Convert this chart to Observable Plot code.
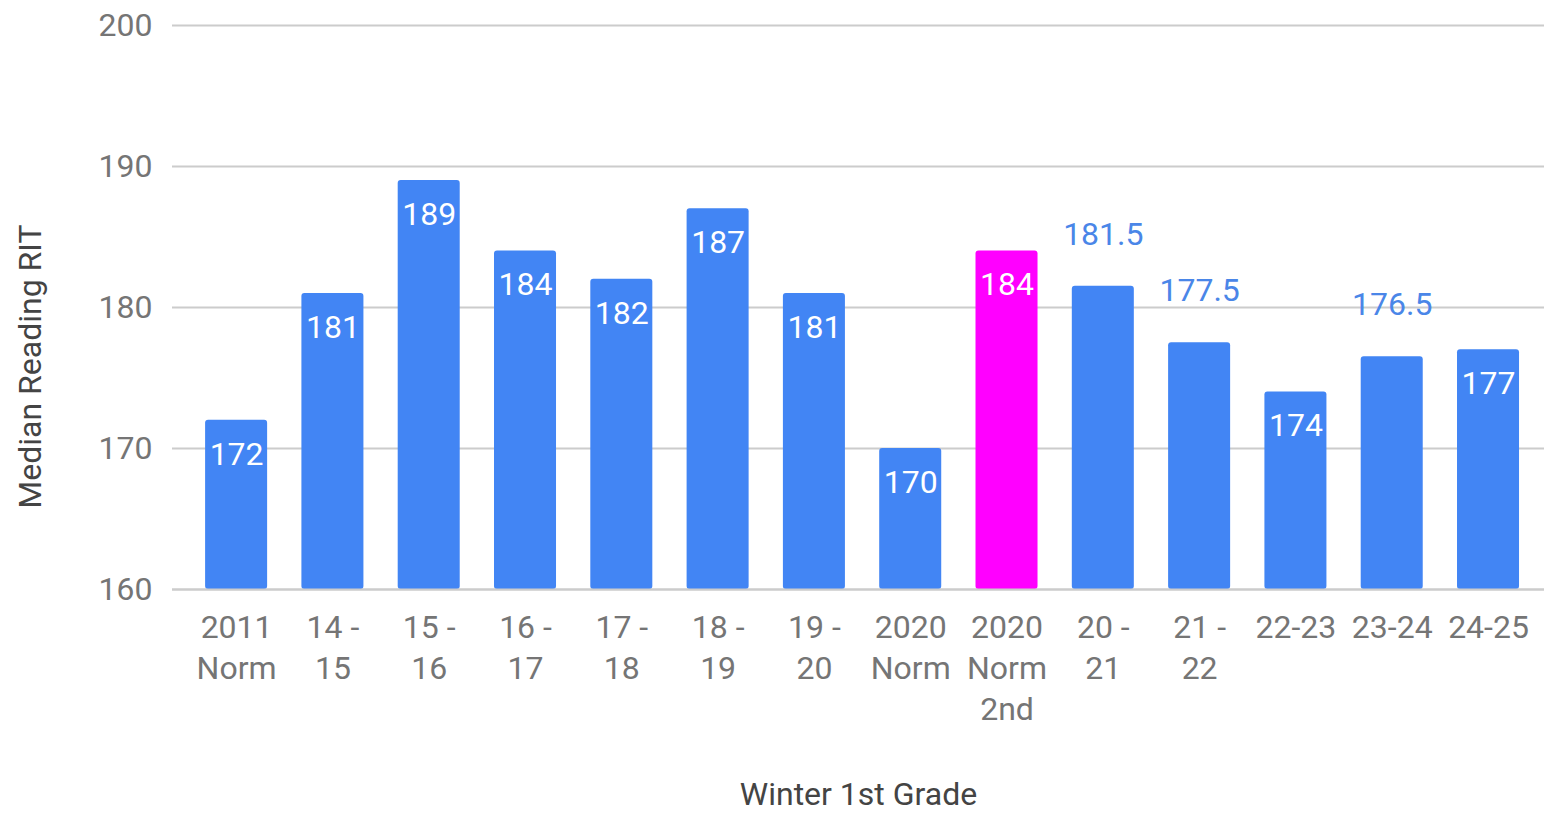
<!DOCTYPE html>
<html>
<head>
<meta charset="utf-8">
<script src="https://cdn.jsdelivr.net/npm/d3@7"></script>
<script src="https://cdn.jsdelivr.net/npm/@observablehq/plot@0.6"></script>
<style>
  html, body { margin: 0; padding: 0; background: #fff; }
  #chart svg { display: block; }
</style>
</head>
<body>
<div id="chart"></div>
<script>
const categories = ["2011\nNorm", "14 -\n15", "15 -\n16", "16 -\n17", "17 -\n18", "18 -\n19", "19 -\n20", "2020\nNorm", "2020\nNorm\n2nd", "20 -\n21", "21 -\n22", "22-23", "23-24", "24-25"];
const values = [172, 181, 189, 184, 182, 187, 181, 170, 184, 181.5, 177.5, 174, 176.5, 177];
const highlighted = ["2020\nNorm\n2nd"];
const yTicks = [160, 170, 180, 190, 200];
const yTitle = "Median Reading RIT";
const xTitle = "Winter 1st Grade";

const data = categories.map((c, i) => ({cat: c, value: values[i]}));
const inside = data.filter(d => Number.isInteger(d.value));
const outside = data.filter(d => !Number.isInteger(d.value));

const blue = "#4285f4";
const magenta = "#ff00ff";

const chart = Plot.plot({
  width: 1544,
  height: 814,
  marginTop: 25,
  marginBottom: 225,
  marginLeft: 172,
  marginRight: 0,
  style: {fontFamily: "Roboto", fontSize: "32px", background: "#fff"},
  x: {domain: categories, paddingInner: 0.356, paddingOuter: 0.3015, align: 0.57, round: false},
  y: {domain: [160, 200]},
  marks: [
    Plot.ruleY(yTicks, {stroke: "#cccccc", strokeWidth: 2}),
    Plot.barY(data, {x: "cat", y1: 160, y2: "value", fill: d => highlighted.includes(d.cat) ? magenta : blue, rx: 3}),
    Plot.ruleY([160], {stroke: "#cccccc", strokeWidth: 2}),
    Plot.text(inside, {x: "cat", y: "value", text: d => String(d.value), fill: "#ffffff", dy: 34, fontSize: 32, lineAnchor: "middle"}),
    Plot.text(outside, {x: "cat", y: "value", text: d => String(d.value), fill: "#4a86e8", dy: -52, fontSize: 32, lineAnchor: "middle"}),
    Plot.axisY({ticks: yTicks, tickSize: 0, tickPadding: 20, color: "#757575", fontSize: 32, label: null}),
    Plot.axisX({tickSize: 0, tickPadding: 20, color: "#757575", fontSize: 32, lineHeight: 1.27, label: null}),
    Plot.text([yTitle], {frameAnchor: "left", textAnchor: "middle", rotate: -90, dx: -142, dy: 59, fill: "#444444", fontSize: 32, lineAnchor: "middle"}),
    Plot.text([xTitle], {frameAnchor: "bottom", textAnchor: "middle", dy: 205, fill: "#444444", fontSize: 32, lineAnchor: "middle"})
  ]
});
document.getElementById("chart").appendChild(chart);
</script>
</body>
</html>
